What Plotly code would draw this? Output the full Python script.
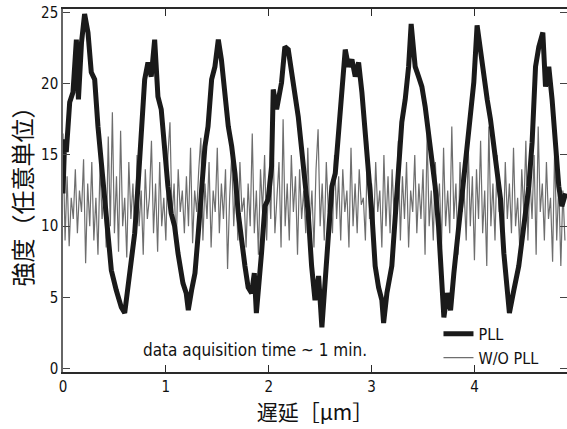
import plotly.graph_objects as go

# delay [um] and intensity of the PLL-locked trace
pll_x = [
    0.000, 0.016, 0.032, 0.065, 0.097, 0.130, 0.150, 0.180, 0.210, 0.243,
    0.275, 0.308, 0.340, 0.372, 0.389, 0.421, 0.437, 0.470, 0.518, 0.567,
    0.600, 0.632, 0.664, 0.697, 0.729, 0.761, 0.794, 0.826, 0.858, 0.891,
    0.923, 0.955, 0.988, 1.020, 1.052, 1.085, 1.118, 1.166, 1.198, 1.218,
    1.250, 1.283, 1.315, 1.350, 1.380, 1.410, 1.445, 1.477, 1.510, 1.540,
    1.574, 1.607, 1.640, 1.672, 1.704, 1.737, 1.769, 1.800, 1.834, 1.860,
    1.880, 1.930, 1.963, 1.995, 2.028, 2.044, 2.077, 2.125, 2.157, 2.190,
    2.222, 2.255, 2.287, 2.320, 2.352, 2.384, 2.417, 2.450, 2.460, 2.485,
    2.517, 2.550, 2.582, 2.614, 2.647, 2.680, 2.711, 2.744, 2.776, 2.809,
    2.841, 2.874, 2.906, 2.938, 2.971, 3.003, 3.035, 3.068, 3.100, 3.117,
    3.149, 3.197, 3.230, 3.262, 3.294, 3.327, 3.360, 3.385, 3.424, 3.457,
    3.489, 3.521, 3.554, 3.586, 3.618, 3.651, 3.683, 3.703, 3.735, 3.768,
    3.800, 3.832, 3.865, 3.897, 3.930, 3.962, 3.994, 4.026, 4.059, 4.091,
    4.124, 4.156, 4.188, 4.220, 4.254, 4.286, 4.318, 4.340, 4.383, 4.431,
    4.480, 4.529, 4.561, 4.594, 4.626, 4.665, 4.691, 4.723, 4.755, 4.790,
    4.820, 4.850, 4.886,
]
pll_y = [
    12.3, 16.1, 15.2, 18.7, 19.4, 23.1, 18.9, 22.9, 24.9, 23.6,
    20.8, 20.3, 17.0, 14.7, 12.8, 10.9, 9.5, 6.9, 5.5, 4.3,
    3.9, 5.7, 7.2, 9.5, 12.8, 16.5, 20.3, 21.5, 20.5, 23.1,
    19.1, 18.2, 15.1, 12.8, 10.9, 10.0, 8.1, 6.0, 5.3, 4.1,
    5.5, 6.7, 9.5, 12.8, 15.6, 17.0, 20.3, 21.2, 23.1, 21.7,
    18.9, 17.0, 15.6, 13.7, 10.9, 8.6, 7.2, 5.7, 5.3, 6.7,
    3.9, 8.1, 11.4, 11.9, 14.2, 19.6, 18.2, 20.1, 22.6, 22.4,
    20.8, 18.9, 17.7, 15.4, 13.3, 10.9, 7.2, 4.8, 5.3, 6.5,
    2.9, 6.7, 9.5, 12.8, 13.7, 16.5, 19.8, 22.4, 21.2, 21.7,
    20.5, 21.5, 19.4, 17.0, 13.7, 10.9, 7.2, 5.7, 4.8, 3.2,
    5.3, 7.2, 10.9, 13.7, 17.3, 18.9, 21.2, 24.2, 21.2, 20.5,
    19.8, 18.4, 16.5, 15.1, 12.8, 10.0, 5.0, 3.6, 5.3, 4.1,
    6.7, 9.0, 11.4, 13.3, 15.9, 18.0, 20.1, 24.1, 22.2, 20.3,
    18.9, 17.5, 15.6, 13.7, 11.9, 8.1, 6.0, 3.9, 5.5, 7.2,
    10.0, 12.8, 15.9, 21.2, 22.6, 23.6, 19.8, 21.2, 18.9, 15.6,
    12.8, 11.4, 12.3,
]

# trace without PLL, sampled every 0.02 um from 0
wo_x0 = 0.0
wo_dx = 0.02
wo_pll_y = [
    16.5, 9.0, 13.5, 8.6, 12.0, 10.5, 14.0, 9.5, 12.5, 11.0,
    14.7, 7.4, 13.0, 10.0, 14.5, 9.0, 12.0, 8.0, 14.3, 10.5,
    12.5, 8.5, 16.3, 10.0, 18.0, 9.5, 13.5, 8.2, 16.7, 10.0,
    12.0, 7.8, 14.5, 10.5, 13.0, 9.0, 15.0, 10.0, 12.5, 8.0,
    14.0, 10.5, 12.0, 16.0, 9.5, 13.0, 8.2, 14.5, 10.0, 12.0,
    9.0, 15.0, 17.3, 10.5, 13.0, 8.5, 14.0, 11.0, 12.5, 9.5,
    13.5, 10.0, 15.5, 8.8, 12.5, 11.0, 14.0, 16.2, 9.0, 13.0,
    10.5, 14.5, 8.5, 12.5, 11.0, 15.5, 9.5, 13.0, 10.5, 14.0,
    7.0, 12.0, 15.0, 10.0, 13.5, 9.0, 14.5, 11.0, 12.0, 8.5,
    13.0, 10.0, 16.5, 9.5, 12.5, 8.0, 14.0, 11.0, 15.0, 9.0,
    13.5, 10.5, 17.0, 9.5, 12.0, 14.5, 8.5, 17.5, 10.0, 13.0,
    9.0, 15.0, 11.0, 13.5, 8.0, 14.0, 10.5, 12.5, 9.5, 15.5,
    10.0, 12.5, 8.5, 14.0, 16.8, 10.0, 13.0, 9.0, 14.5, 11.0,
    12.0, 9.5, 15.0, 10.5, 13.5, 9.0, 14.0, 11.0, 12.5, 8.5,
    15.5, 10.0, 13.0, 9.5, 14.0, 11.5, 12.0, 9.0, 16.0, 10.5,
    13.0, 9.5, 14.5, 11.0, 12.5, 8.5, 15.0, 10.0, 13.5, 9.5,
    14.0, 10.5, 12.0, 16.0, 9.0, 13.5, 10.5, 14.5, 8.5, 12.5,
    11.0, 15.0, 9.5, 13.0, 10.5, 14.0, 8.0, 16.5, 10.0, 12.5,
    9.0, 14.5, 11.0, 13.0, 8.5, 15.5, 10.0, 12.5, 9.5, 17.0,
    10.5, 13.0, 8.0, 14.5, 11.0, 12.5, 9.0, 15.5, 10.0, 13.5,
    7.6, 14.0, 10.5, 16.0, 9.5, 12.5, 7.2, 17.0, 10.0, 13.0,
    9.0, 15.0, 11.0, 12.5, 8.5, 14.5, 10.5, 13.0, 9.5, 15.5,
    10.0, 12.0, 8.5, 14.0, 11.0, 16.0, 9.0, 13.5, 10.5, 15.0,
    8.0, 17.0, 11.0, 13.0, 9.0, 14.5, 10.5, 12.0, 7.5, 15.5,
    9.0, 13.0, 7.2, 12.5, 9.0,
]

x_ticks = [0, 1, 2, 3, 4]
y_ticks = [0, 5, 10, 15, 20, 25]

TICK_FONT = "DejaVu Sans Condensed, Liberation Sans Narrow, Liberation Sans, Arial, sans-serif"
CJK_FONT = "Noto Sans CJK JP, sans-serif"

fig = go.Figure()
fig.add_trace(
    go.Scatter(
        x0=wo_x0, dx=wo_dx, y=wo_pll_y,
        mode="lines",
        name="W/O PLL",
        line=dict(color="#6e6e6e", width=1.2),
        legendrank=2,
    )
)
fig.add_trace(
    go.Scatter(
        x=pll_x, y=pll_y,
        mode="lines",
        name="PLL",
        line=dict(color="#1a1a1a", width=5),
        legendrank=1,
    )
)

fig.add_annotation(
    text="data aquisition time ~ 1 min.",
    x=1.87, y=1.3, xref="x", yref="y",
    showarrow=False,
    font=dict(family=TICK_FONT, size=17, color="#111"),
)

fig.update_layout(
    width=567, height=429,
    margin=dict(l=63, r=0, t=9, b=57),
    paper_bgcolor="white",
    plot_bgcolor="white",
    showlegend=True,
    legend=dict(
        x=0.745, y=-0.008, xanchor="left", yanchor="bottom",
        bgcolor="rgba(0,0,0,0)",
        font=dict(family=TICK_FONT, size=16, color="#111"),
        tracegroupgap=0,
        itemwidth=30,
    ),
)
fig.update_xaxes(
    range=[0, 4.9],
    tickvals=x_ticks,
    automargin=False,
    showgrid=False, zeroline=False,
    showline=True, linecolor="#2a2a2a", linewidth=1.5, mirror="ticks",
    ticks="inside", ticklen=7, tickcolor="#2a2a2a",
    tickfont=dict(family=TICK_FONT, size=15, color="#111"),
    title=dict(text="遅延［μm］", font=dict(family=CJK_FONT, size=21, color="#111"), standoff=0),
)
fig.update_yaxes(
    range=[-0.24, 25.25],
    tickvals=y_ticks,
    automargin=False,
    showgrid=False, zeroline=False,
    showline=True, linecolor="#666666", linewidth=1.5, mirror="ticks",
    ticks="inside", ticklen=7, tickcolor="#444444",
    tickfont=dict(family=TICK_FONT, size=15, color="#111"),
    title=dict(text="強度（任意単位）", font=dict(family=CJK_FONT, size=24, color="#111"), standoff=2),
)

# drop the default 8 px body margin so the figure fills the window exactly
fig.write_html(
    "out.html",
    config={"displayModeBar": False},
    post_script="document.body.style.margin='0';",
)
